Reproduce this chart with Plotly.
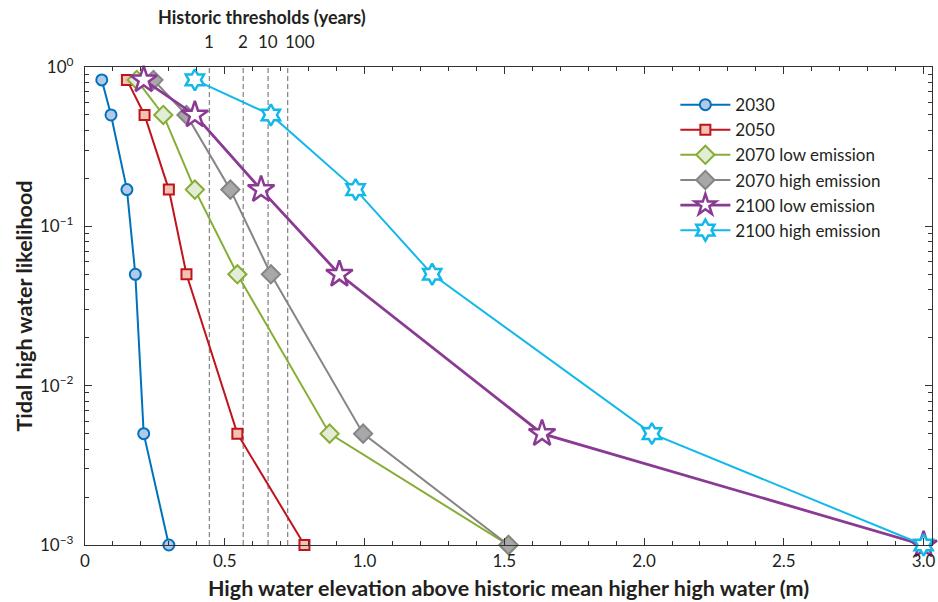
import plotly.graph_objects as go

likelihood = [0.83, 0.5, 0.17, 0.05, 0.005, 0.001]

series_names = ["2030", "2050", "2070 low emission", "2070 high emission",
                "2100 low emission", "2100 high emission"]
elev_2030 = [0.06, 0.093, 0.15, 0.18, 0.21, 0.30]
elev_2050 = [0.15, 0.213, 0.30, 0.363, 0.545, 0.785]
elev_2070_low = [0.185, 0.28, 0.393, 0.545, 0.875, 1.515]
elev_2070_high = [0.245, 0.363, 0.52, 0.665, 0.995, 1.515]
elev_2100_low = [0.21, 0.393, 0.63, 0.91, 1.635, 3.0]
elev_2100_high = [0.393, 0.665, 0.968, 1.242, 2.028, 3.0]

threshold_x = [0.445, 0.566, 0.655, 0.725]
threshold_labels = ["1", "2", "10", "100"]

x_tickvals = [0, 0.5, 1.0, 1.5, 2.0, 2.5, 3.0]
x_ticktext = ["0", "0.5", "1.0", "1.5", "2.0", "2.5", "3.0"]
y_tickvals = [1, 0.1, 0.01, 0.001]
y_ticktext = ["10<sup>0</sup>", "10<sup>\u22121</sup>", "10<sup>\u22122</sup>", "10<sup>\u22123</sup>"]

FONT = "Lato"

styles = [
    dict(line=dict(color="#0072BD", width=2),
         marker=dict(symbol="circle", size=11, color="#b4c8e8", line=dict(color="#0072BD", width=2))),
    dict(line=dict(color="#C0141C", width=2),
         marker=dict(symbol="square", size=10, color="#f2c3b3", line=dict(color="#C0141C", width=2))),
    dict(line=dict(color="#86AD35", width=2),
         marker=dict(symbol="diamond", size=14, color="#e3ecd6", line=dict(color="#86AD35", width=2))),
    dict(line=dict(color="#858585", width=2),
         marker=dict(symbol="diamond", size=14, color="#a8a8a8", line=dict(color="#858585", width=2))),
    dict(line=dict(color="#8B3A94", width=2.8),
         marker=dict(symbol="star", size=20, color="white", line=dict(color="#8B3A94", width=2.5))),
    dict(line=dict(color="#12B8EA", width=2),
         marker=dict(symbol="hexagram", size=16, color="white", line=dict(color="#12B8EA", width=2.5))),
]
all_x = [elev_2030, elev_2050, elev_2070_low, elev_2070_high, elev_2100_low, elev_2100_high]

fig = go.Figure()
for name, xs, st in zip(series_names, all_x, styles):
    fig.add_trace(go.Scatter(x=xs, y=likelihood, mode="lines+markers", name=name,
                             line=st["line"], marker=st["marker"], cliponaxis=False))

annotations = [dict(text="<b>Historic thresholds (years)</b>", xref="paper", yref="paper",
                    x=(263 - 85) / 851, y=1, yshift=50, xanchor="center", yanchor="middle",
                    showarrow=False, font=dict(size=18, family=FONT))]

for i, (tx, lab) in enumerate(zip(threshold_x, threshold_labels)):
    fig.add_shape(type="line", xref="x", yref="paper", x0=tx, x1=tx, y0=0, y1=1,
                  line=dict(color="#8a8a8a", width=1.3, dash="5px,3px"), layer="below")
    last = i == len(threshold_x) - 1
    annotations.append(dict(text=lab, xref="x", yref="paper", x=tx, y=1, yshift=26,
                            xanchor="left" if last else "center", xshift=-5 if last else 0,
                            yanchor="middle", showarrow=False, font=dict(size=17, family=FONT)))

xr = [0, 3.03]
fig.update_layout(
    width=938, height=602,
    margin=dict(l=85, r=2, t=67, b=57),
    paper_bgcolor="white", plot_bgcolor="white",
    font=dict(family=FONT, size=17, color="#231f20"),
    showlegend=True,
    legend=dict(x=0.697, y=0.958, xanchor="left", yanchor="top", bgcolor="rgba(0,0,0,0)",
                font=dict(size=17, family=FONT), tracegroupgap=0, itemwidth=50),
    xaxis=dict(range=xr, tickvals=x_tickvals, ticktext=x_ticktext, ticks="inside", ticklen=7,
               tickcolor="#333", showline=True, linecolor="#333", linewidth=1.2, mirror="ticks",
               showgrid=False, zeroline=False, ticklabeloverflow="allow",
               minor=dict(ticks="inside", ticklen=4, dtick=0.1, tickcolor="#333", showgrid=False),
               title=dict(text="<b>High water elevation above historic mean higher high water (m)</b>",
                          font=dict(size=21.5, family=FONT), standoff=11),
               tickfont=dict(size=17)),
    yaxis=dict(type="log", range=[-3, 0], tickvals=y_tickvals, ticktext=y_ticktext,
               ticks="inside", ticklen=7, tickcolor="#333", showline=True, linecolor="#333",
               linewidth=1.2, mirror="ticks", showgrid=False, zeroline=False,
               ticklabelstandoff=7,
               minor=dict(ticks="inside", ticklen=4, tickcolor="#333", showgrid=False,
                          tickvals=[m * 10 ** e for e in (-3, -2, -1) for m in range(2, 10)]),
               title=dict(text="<b>Tidal high water likelihood</b>", font=dict(size=21.5, family=FONT),
                          standoff=1),
               tickfont=dict(size=17)),
    annotations=annotations,
)

fig.write_html("out.html")
